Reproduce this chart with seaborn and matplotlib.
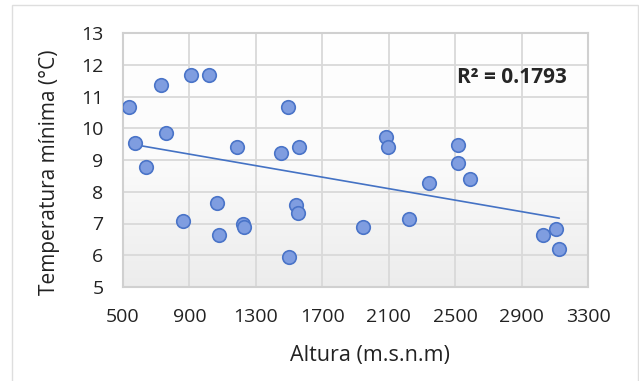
import numpy as np
import pandas as pd
import matplotlib
matplotlib.use("Agg")
import matplotlib.pyplot as plt
import seaborn as sns
from matplotlib.patches import Rectangle
from matplotlib.colors import LinearSegmentedColormap

# Data
altura = [538, 729, 911, 1020, 572, 757, 637, 1186, 1491, 1451, 1561,
          1066, 863, 1080, 1222, 1226, 1542, 1551, 1501, 1947,
          2081, 2093, 2515, 2515, 2344, 2589, 2224, 3030, 3107, 3127]
temp_min = [10.66, 11.36, 11.68, 11.68, 9.53, 9.84, 8.77, 9.41, 10.66, 9.21, 9.41,
            7.65, 7.07, 6.63, 6.97, 6.90, 7.58, 7.32, 5.94, 6.88,
            9.73, 9.40, 9.46, 8.90, 8.27, 8.39, 7.13, 6.64, 6.83, 6.19]
x_ticks = [500, 900, 1300, 1700, 2100, 2500, 2900, 3300]
y_ticks = [5, 6, 7, 8, 9, 10, 11, 12, 13]
r2_label = "R² = 0.1793"
x_label = "Altura (m.s.n.m)"
y_label = "Temperatura mínima (°C)"

df = pd.DataFrame({"altura": altura, "temp": temp_min})

sns.set_style("white")
plt.rcParams["font.family"] = ["Open Sans", "DejaVu Sans"]

fig = plt.figure(figsize=(6.39, 3.81), dpi=100)
fig.patch.set_facecolor("white")
# outer chart border (no bottom edge visible)
fig.add_artist(Rectangle((12 / 639, -0.05), (639 - 12 - 1.5) / 639, 1 - 5 / 381 + 0.05,
                         transform=fig.transFigure, fill=False,
                         edgecolor="#dedede", linewidth=1.0))

ax = fig.add_axes([123 / 639, 1 - 287 / 381, (588 - 123) / 639, (287 - 33) / 381])

# gradient plot-area background: white at top, light grey at bottom
cmap = LinearSegmentedColormap.from_list("bg", ["#ffffff", "#fbfbfb", "#ececec"])
grad = np.linspace(0, 1, 256).reshape(-1, 1)
ax.imshow(grad, aspect="auto", cmap=cmap, extent=[500, 3300, 5, 13],
          origin="upper", zorder=0, interpolation="bicubic")

ax.set_xlim(500, 3300)
ax.set_ylim(5, 13)
ax.set_xticks(x_ticks)
ax.set_yticks(y_ticks)
ax.grid(True, color="#d9d9d9", linewidth=1.3, zorder=1)
ax.set_axisbelow(True)
for s in ax.spines.values():
    s.set_color("#d0d0d0")
    s.set_linewidth(1.5)

# trend line (linear fit), drawn from min to max x
coef = np.polyfit(df["altura"], df["temp"], 1)
xs = np.array([df["altura"].min(), df["altura"].max()])
trend = pd.DataFrame({"x": xs, "y": np.polyval(coef, xs)})
sns.lineplot(data=trend, x="x", y="y", ax=ax, color="#4472c4", linewidth=1.2, zorder=3)

sns.scatterplot(data=df, x="altura", y="temp", ax=ax, s=95, color="#7f9de0",
                edgecolor="#4a74c8", linewidth=1.2, zorder=4)

ax.tick_params(axis="y", length=0, labelsize=14, colors="#222222", pad=14)
ax.tick_params(axis="x", length=0, labelsize=14, colors="#222222", pad=15)
ax.set_xlabel(x_label, fontsize=15.5, color="#222222")
ax.set_ylabel(y_label, fontsize=15, color="#222222")
ax.xaxis.set_label_coords((370 - 123) / 465, -(355 - 287) / 254)
ax.yaxis.set_label_coords(-(123 - 50) / 465, (287 - 172) / 254)
ax.xaxis.label.set_va("center")
ax.yaxis.label.set_va("center")

ax.text(2511, 11.61, r2_label, fontsize=15, fontweight="bold", color="#262626",
        va="center", ha="left", zorder=5)

fig.savefig("out.png", dpi=100)
